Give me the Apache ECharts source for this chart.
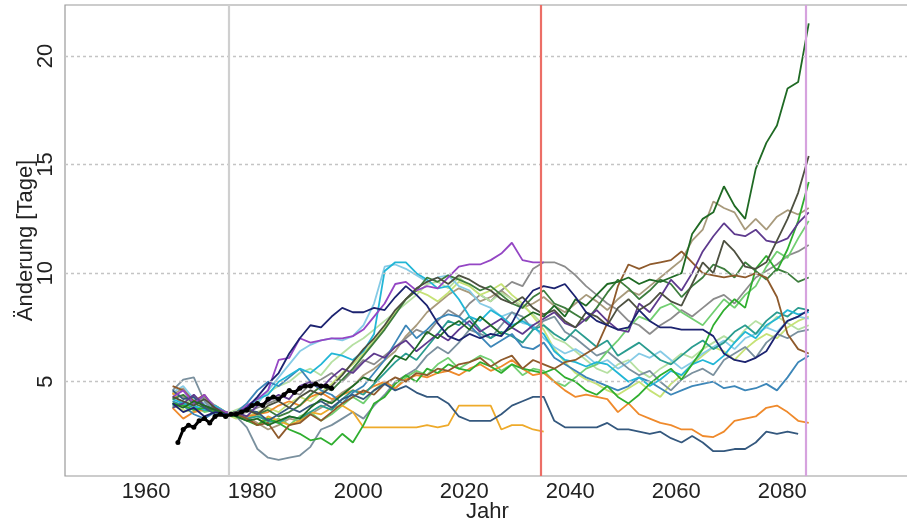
<!DOCTYPE html>
<html>
<head>
<meta charset="utf-8">
<script src="https://cdn.jsdelivr.net/npm/echarts@6/dist/echarts.min.js"></script>
<style>
  html, body { margin: 0; padding: 0; background: #ffffff; }
  #chart { width: 907px; height: 524px; }
</style>
</head>
<body>
<div id="chart"></div>
<script>
// Model years (every second year) and observed years
const modelYears = [1965,1967,1969,1971,1973,1975,1977,1979,1981,1983,1985,1987,1989,1991,1993,1995,1997,1999,2001,2003,
  2005,2007,2009,2011,2013,2015,2017,2019,2021,2023,2025,2027,2029,2031,2033,2035,2037,2039,2041,2043,
  2045,2047,2049,2051,2053,2055,2057,2059,2061,2063,2065,2067,2069,2071,2073,2075,2077,2079,2081,2083,2085];
const obsYears = [1966,1967,1968,1969,1970,1971,1972,1973,1974,1975,1976,1977,1978,1979,1980,
  1981,1982,1983,1984,1985,1986,1987,1988,1989,1990,1991,1992,1993,1994,1995];

// Observed change (days)
const observed = [2.2,2.8,3.0,2.9,3.2,3.3,3.1,3.4,3.5,3.4,3.5,3.5,3.6,3.7,3.9,
  4.0,3.9,4.2,4.3,4.2,4.4,4.6,4.5,4.7,4.8,4.8,4.9,4.8,4.8,4.7];

// Model runs (change in days)
const navy = [4.0,3.6,3.8,3.4,3.6, 3.5,3.5,3.8,4.3,4.9, 5.4,6.3,7.0,7.6,7.5, 8.0,8.4,8.2,8.2,8.4,
  8.3,8.9,9.4,9.0,8.5, 7.7,7.1,6.9,7.2,7.0, 7.2,7.1,7.7,8.6,9.2, 9.4,9.3,9.5,8.9,8.2,
  7.8,7.6,7.4,7.5,8.3, 7.8,7.5,7.5,7.4,7.4, 7.4,7.1,6.3,6.0,5.9, 6.1,6.4,7.2,7.8,8.0, 8.3];
const violetShort = [4.3,4.6,4.0,4.4,3.8, 3.6,3.5,3.9,4.2,4.6, 6.0,6.1,7.0,6.8,6.9, 7.0,7.0,7.1,7.4,8.0,
  8.6,9.5,9.6,9.2,9.4, 9.3,9.8,10.3,10.4,10.4, 10.6,10.9,11.4,10.6,10.5, 10.5];
const purple = [3.8,4.0,4.4,3.9,3.7, 3.5,3.6,3.4,3.9,4.1, 4.4,4.2,4.8,5.0,4.7, 5.2,5.6,5.4,5.9,6.3,
  6.1,6.6,6.9,6.4,6.8, 7.2,6.9,7.4,7.8,7.3, 7.6,7.9,7.5,7.2,7.6, 7.9,8.2,7.7,7.5,7.9,
  8.3,7.8,7.4,7.3,8.6, 8.2,8.9,9.7,9.2,10.0, 11.0,11.7,12.3,11.8,11.7, 12.0,11.5,11.4,11.6,12.3, 12.8];
const cyan = [4.2,4.0,3.9,3.7,3.9, 3.6,3.5,3.8,4.2,4.4, 5.0,5.3,5.6,5.4,5.8, 6.3,6.2,6.0,6.4,7.2,
  10.1,10.5,10.5,10.0,9.7, 9.3,9.4,8.8,8.0,7.8, 8.3,8.0,7.6,7.8,7.5, 7.2,6.4,6.0,5.9,5.7,
  5.9,5.8,5.4,5.0,5.2, 4.8,5.1,5.5,5.3,5.8, 6.0,5.8,6.2,6.8,7.3, 7.0,7.6,7.9,8.3,8.1, 8.2];
const sky = [4.5,4.8,4.2,4.0,3.8, 3.6,3.5,3.7,4.0,4.6, 5.2,5.8,6.4,6.7,6.9, 7.0,6.9,7.1,7.6,8.6,
  10.3,10.4,10.2,9.9,9.6, 9.8,9.9,9.4,9.2,8.6, 8.4,8.0,8.2,7.7,7.6, 7.0,6.6,6.3,6.5,6.2,
  5.8,6.0,5.6,5.9,6.3, 6.1,6.4,6.0,5.6,5.9, 6.3,6.6,6.9,6.5,7.0, 7.2,7.5,7.3,7.8,8.0, 7.9];
const steel = [4.1,3.9,3.5,3.3,3.6, 3.5,3.6,4.0,4.6,5.0, 4.8,5.2,5.6,5.0,4.6, 4.4,4.0,4.5,4.8,5.4,
  6.0,6.8,7.6,7.0,7.4, 7.9,8.1,8.0,7.6,7.1, 6.6,6.9,7.2,6.6,6.5, 6.8,6.1,5.8,5.5,5.2,
  5.0,4.8,4.6,4.8,5.2, 5.0,4.7,4.4,4.6,4.8, 4.9,5.0,4.7,4.8,4.6, 4.7,4.9,4.6,5.2,5.9, 6.2];
const slate = [4.6,4.2,4.3,3.8,3.5, 3.4,3.5,3.7,3.6,3.2, 3.5,3.8,3.6,3.9,4.1, 3.8,4.2,4.4,4.2,4.6,
  4.9,4.6,4.8,4.5,4.3, 4.3,4.0,3.4,3.2,3.2, 3.2,3.5,3.9,4.1,4.3, 4.3,3.2,2.9,2.9,2.9,
  2.9,3.1,2.8,2.8,2.7, 2.6,2.7,2.4,2.2,2.5, 2.2,1.8,1.8,1.9,1.9, 2.2,2.7,2.6,2.7,2.6];
const greyBlue = [4.6,5.1,5.2,4.1,3.6, 3.5,3.4,2.9,1.9,1.5, 1.4,1.5,1.6,2.0,2.8, 3.0,3.3,3.6,3.3,3.9,
  4.4,5.0,5.3,5.6,6.2, 6.6,6.3,6.8,7.4,7.2, 7.0,7.6,8.2,8.0,7.4, 7.8,8.0,7.3,7.0,6.6,
  6.2,6.4,6.0,5.6,5.3, 5.5,5.0,4.6,5.1,5.4, 5.6,5.3,6.0,6.3,6.6, 6.1,6.8,7.2,7.0,7.3, 7.4];
const teal = [3.9,4.0,3.8,3.7,3.6, 3.5,3.5,3.3,3.4,3.2, 3.1,3.4,3.3,3.6,3.9, 3.7,4.2,4.6,4.4,4.9,
  5.4,5.9,6.3,6.0,6.6, 7.2,7.8,7.6,8.0,7.4, 7.0,7.3,7.1,6.8,7.4, 7.6,7.2,6.9,7.4,7.0,
  6.6,6.9,6.2,6.5,6.8, 6.4,6.0,5.8,6.2,6.6, 6.9,6.5,6.8,7.3,7.6, 7.2,7.8,8.2,8.0,8.4, 8.3];
const forest = [4.0,3.8,4.1,3.9,3.7, 3.5,3.4,3.2,3.3,3.0, 3.2,3.4,3.3,3.8,4.2, 4.0,4.4,4.8,5.2,5.0,
  5.6,6.2,6.0,6.6,7.3, 7.0,7.5,7.8,7.4,8.0, 7.6,7.2,7.5,7.9,8.2, 8.0,8.5,8.0,8.8,8.5,
  9.0,9.5,9.6,9.8,9.5, 9.7,9.6,9.8,10.0,11.8, 12.5,12.8,14.0,13.1,12.5, 14.8,16.0,16.8,18.5,18.8, 21.5];
const charcoal = [4.3,4.1,3.9,4.2,3.8, 3.5,3.6,3.7,3.5,3.9, 4.1,3.8,4.3,4.6,4.4, 4.8,5.3,5.9,6.5,7.0,
  7.6,8.3,8.8,9.3,9.6, 9.8,9.5,9.9,9.7,9.4, 9.2,8.8,8.6,8.9,8.4, 8.1,8.3,7.8,7.5,8.2,
  8.0,7.6,8.4,8.8,8.3, 8.6,9.1,8.7,8.5,9.5, 10.5,10.0,11.5,11.0,10.3, 10.2,10.5,11.5,12.5,13.7, 15.4];
const khaki = [4.4,4.7,4.2,3.9,3.8, 3.6,3.5,3.4,3.1,2.8, 3.0,3.3,3.2,3.5,3.8, 4.1,4.5,4.8,5.3,5.6,
  6.0,6.4,7.1,7.6,8.2, 8.6,9.0,9.3,9.1,8.7, 8.9,9.2,8.8,8.4,8.6, 8.9,8.5,8.2,8.6,9.0,
  8.7,8.3,8.8,9.2,9.0, 9.4,9.8,10.2,10.6,11.5, 12.0,13.3,13.0,12.8,12.0, 12.5,12.0,12.6,12.9,12.7, 13.0];
const grey = [4.5,4.3,4.0,4.3,3.9, 3.6,3.5,3.6,3.8,4.0, 4.2,4.6,4.4,4.9,5.1, 5.4,5.0,5.5,6.0,5.8,
  6.2,6.6,7.0,7.4,7.2, 7.8,8.3,8.0,8.6,9.0, 8.7,9.2,9.6,9.4,10.2, 10.5,10.5,10.3,9.9,9.4,
  9.0,8.6,8.3,7.8,7.6, 7.2,7.6,7.9,8.3,8.0, 8.4,8.8,9.0,8.6,9.2, 9.8,10.1,10.4,10.8,11.0, 11.3];
const green = [4.0,3.9,3.7,3.8,3.6, 3.5,3.4,3.2,3.0,3.3, 3.1,2.8,2.6,2.3,2.4, 2.1,2.6,2.2,3.0,4.0,
  4.3,4.9,5.3,5.0,5.6, 5.4,5.8,5.6,5.5,5.9, 5.7,5.4,5.8,5.6,5.5, 5.4,5.6,5.2,5.0,4.6,
  4.4,4.8,4.3,4.0,4.4, 4.9,5.3,5.6,5.1,5.8, 6.5,7.6,8.3,8.8,8.4, 10.2,10.8,10.1,11.1,12.4, 14.2];
const lightGreen = [3.8,4.1,3.9,3.6,3.7, 3.5,3.4,3.3,3.5,3.1, 3.3,3.0,3.4,3.6,3.2, 3.5,3.9,4.3,4.0,4.6,
  5.0,4.7,5.2,5.5,5.3, 5.8,6.1,5.6,5.9,6.2, 6.0,5.5,5.8,5.3,5.6, 5.5,5.0,4.8,5.2,5.6,
  5.8,6.4,6.9,7.5,8.0, 7.8,8.4,8.6,8.2,7.9, 7.6,8.2,8.8,8.4,9.0, 9.4,10.3,11.0,10.7,11.6, 12.4];
const paleGreen = [4.1,3.9,4.3,4.0,3.8, 3.5,3.7,3.9,4.1,4.5, 4.8,5.0,5.4,5.6,5.3, 5.9,6.3,6.7,7.0,7.4,
  7.8,8.2,8.6,9.0,9.5, 9.6,9.3,9.8,9.4,9.0, 8.7,9.1,8.8,8.5,8.1, 7.6,7.0,6.8,6.4,6.0,
  5.6,5.4,5.8,6.0,5.5, 5.2,5.6,5.9,6.3,6.1, 6.5,6.8,7.1,6.8,7.4, 7.8,7.5,8.0,7.7,7.4, 7.6];
const lime = [3.9,3.7,3.6,3.8,3.6, 3.5,3.3,3.4,3.6,3.8, 3.6,4.0,4.3,4.1,4.5, 4.9,5.4,5.8,6.3,6.9,
  7.5,8.2,8.8,9.2,9.0, 8.7,9.1,9.6,9.4,9.0, 9.2,9.5,9.0,8.6,8.0, 7.4,6.5,5.9,5.4,5.1,
  4.9,4.6,4.4,4.7,5.0, 4.6,4.3,4.9,5.3,5.8, 6.2,6.6,6.4,6.0,6.5, 6.9,7.2,7.0,7.5,7.8, 8.0];
const moss = [4.2,4.4,4.0,3.8,3.7, 3.5,3.6,3.8,3.5,3.7, 3.4,3.6,3.9,4.4,4.8, 4.6,5.1,5.6,6.2,6.8,
  7.4,8.1,8.8,9.2,9.8, 9.6,9.9,9.7,9.5,9.2, 9.4,9.0,8.6,8.4,8.9, 9.2,8.6,8.4,8.1,7.8,
  8.4,9.1,9.7,9.3,8.8, 9.2,9.7,9.5,8.9,9.4, 9.8,10.4,10.2,9.8,10.5, 10.1,9.7,10.2,10.0,9.6, 9.8];
const brown = [4.8,4.6,4.1,4.4,3.7, 3.6,3.5,3.3,3.0,3.1, 2.4,3.0,3.1,3.5,3.2, 3.6,4.0,4.3,4.6,4.4,
  4.9,5.2,5.0,5.4,5.3, 5.6,5.5,5.8,5.9,6.1, 5.7,6.0,6.2,5.6,6.0, 5.8,5.6,5.9,6.0,6.3,
  6.6,7.7,9.4,10.4,10.2, 10.4,10.5,10.6,11.0,10.5, 10.0,9.9,9.8,9.9,9.8, 10.0,9.8,8.9,7.2,6.5, 6.3];
const amberShort = [4.5,3.9,3.7,3.8,3.6, 3.5,3.5,3.3,3.0,3.4, 3.2,3.0,3.2,3.6,3.5, 3.8,3.9,3.6,2.9,2.9,
  2.9,2.9,2.9,2.9,3.0, 2.9,3.0,3.9,3.9,3.9, 3.9,2.8,3.0,3.0,2.8, 2.7];
const orange = [3.8,3.3,3.6,3.7,3.9, 3.6,3.5,3.4,3.5,3.6, 3.9,4.1,3.9,4.3,4.5, 4.2,4.4,4.6,4.5,4.8,
  5.0,4.7,5.1,5.3,5.2, 5.4,5.5,5.3,5.6,5.8, 5.5,5.7,6.0,5.6,5.3, 5.4,5.0,4.6,4.3,4.4,
  4.3,4.2,3.6,4.0,3.5, 3.3,3.1,3.0,2.8,2.8, 2.5,2.45,2.7,3.2,3.3, 3.4,3.8,3.9,3.6,3.2, 3.1];

// Colour of each run
const runs = [
  { name: 'khaki', data: khaki, color: '#a89a7c' },
  { name: 'grey', data: grey, color: '#8c8c8c' },
  { name: 'paleGreen', data: paleGreen, color: '#b6e0a2' },
  { name: 'lime', data: lime, color: '#c6e276' },
  { name: 'sky', data: sky, color: '#86cbe6' },
  { name: 'greyBlue', data: greyBlue, color: '#7a909e' },
  { name: 'lightGreen', data: lightGreen, color: '#72cf72' },
  { name: 'amberShort', data: amberShort, color: '#eeaa2a' },
  { name: 'orange', data: orange, color: '#ef8a2c' },
  { name: 'teal', data: teal, color: '#2a9c90' },
  { name: 'steel', data: steel, color: '#3c86b8' },
  { name: 'cyan', data: cyan, color: '#22b6d6' },
  { name: 'green', data: green, color: '#2fae2f' },
  { name: 'moss', data: moss, color: '#3d7d3d' },
  { name: 'brown', data: brown, color: '#8e5a2c' },
  { name: 'slate', data: slate, color: '#34587e' },
  { name: 'violetShort', data: violetShort, color: '#9446c4' },
  { name: 'purple', data: purple, color: '#5e3a8e' },
  { name: 'charcoal', data: charcoal, color: '#4d5040' },
  { name: 'forest', data: forest, color: '#1f6a24' },
  { name: 'navy', data: navy, color: '#1c2370' }
];

// Reference marks on the time axis
const periodMarks = [
  { year: 1975.6, color: '#cfcfcf' },
  { year: 2034.5, color: '#ec6e66' },
  { year: 2084.5, color: '#d6a2de' }
];
const yTicks = [5, 10, 15, 20];
const xTicks = [1960, 1980, 2000, 2020, 2040, 2060, 2080];

const font = 'Liberation Sans, Arial, Helvetica, sans-serif';
const chart = echarts.init(document.getElementById('chart'), null, { renderer: 'canvas' });

const series = runs.map(r => ({
  name: r.name,
  type: 'line',
  data: r.data.map((v, i) => [modelYears[i], v]),
  showSymbol: false,
  silent: true,
  lineStyle: { width: 1.8, color: r.color },
  itemStyle: { color: r.color },
  z: 3
}));

// Horizontal guide lines and period marks
series.unshift({
  type: 'line',
  data: [],
  silent: true,
  z: 1,
  markLine: {
    silent: true,
    symbol: 'none',
    label: { show: false },
    data: yTicks.map(v => ({ yAxis: v, lineStyle: { color: '#c4c4c4', type: [3, 3], width: 1.4 } }))
      .concat(periodMarks.map(p => ({ xAxis: p.year, lineStyle: { color: p.color, type: 'solid', width: 2.2 } })))
  }
});

series.push({
  name: 'observed',
  type: 'line',
  data: observed.map((v, i) => [obsYears[i], v]),
  symbol: 'circle',
  symbolSize: 5,
  showSymbol: true,
  silent: true,
  lineStyle: { width: 3, color: '#000000' },
  itemStyle: { color: '#000000' },
  z: 5
});

chart.setOption({
  animation: false,
  backgroundColor: '#ffffff',
  grid: {
    left: 65, top: 5, width: 845, height: 471,
    containLabel: false,
    outerBoundsMode: 'none',
    show: true, borderColor: '#9a9a9a', borderWidth: 1.2, backgroundColor: 'transparent'
  },
  xAxis: {
    type: 'value',
    min: 1944.7,
    max: 2104.1,
    name: 'Jahr',
    nameLocation: 'middle',
    nameGap: 25,
    nameMoveOverlap: false,
    nameTextStyle: { fontFamily: font, fontSize: 22, color: '#222' },
    axisLine: { show: false },
    axisTick: { show: false, customValues: xTicks },
    splitLine: { show: false },
    axisLabel: {
      customValues: xTicks, fontFamily: font, fontSize: 22, color: '#222', margin: 5,
      formatter: v => String(v)
    }
  },
  yAxis: {
    type: 'value',
    min: 0.657,
    max: 22.35,
    name: 'Änderung [Tage]',
    nameLocation: 'middle',
    nameGap: 28,
    nameMoveOverlap: false,
    nameRotate: 90,
    nameTextStyle: { fontFamily: font, fontSize: 22, color: '#222' },
    axisLine: { show: false },
    axisTick: { show: false, customValues: yTicks },
    splitLine: { show: false },
    axisLabel: {
      customValues: yTicks, rotate: 90, fontFamily: font, fontSize: 22, color: '#222', margin: 8,
      formatter: v => String(v)
    }
  },
  series: series
});
</script>
</body>
</html>
